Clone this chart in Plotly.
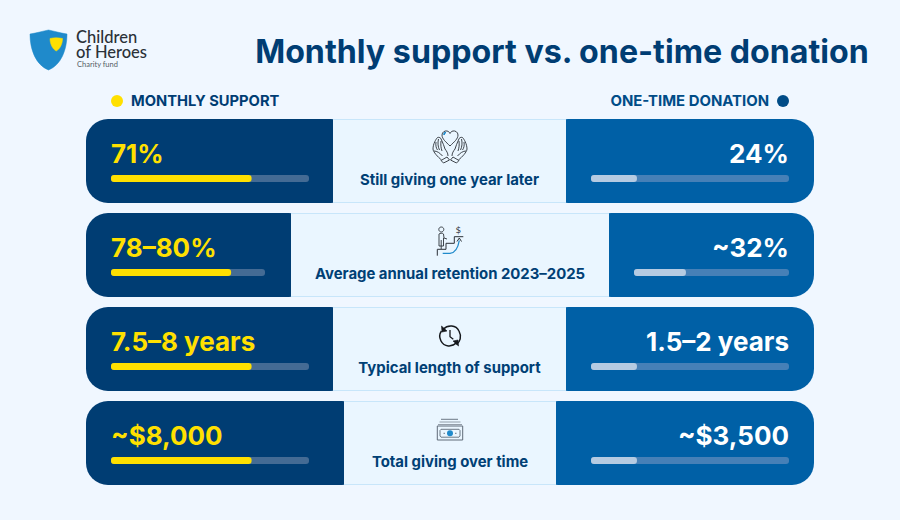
import plotly.graph_objects as go

# ---- data ----
row_labels = ["Still giving one year later", "Average annual retention 2023–2025",
              "Typical length of support", "Total giving over time"]
monthly_text = ["71%", "78–80%", "7.5–8 years", "~$8,000"]
onetime_text = ["24%", "~32%", "1.5–2 years", "~$3,500"]
monthly_fill = [0.71, 0.78, 0.71, 0.71]
onetime_fill = [0.232, 0.335, 0.232, 0.232]
legend_labels = ["MONTHLY SUPPORT", "ONE-TIME DONATION"]
title_text = "Monthly support vs. one-time donation"

# ---- geometry ----
W, H = 900, 520
row_mid = [161, 255, 349, 443]
center_left = [333, 291, 333, 344]
center_right = [566, 609, 566, 556]
left_track_end = [309, 265, 309, 309]
right_track_start = [591, 634, 591, 591]
TRACK_L0, TRACK_R1 = 111, 789
PANEL_L, PANEL_R = 86, 814

# ---- colours ----
BG = "#f0f7ff"; NAVY = "#003d73"; BLUE = "#0060a6"; YEL = "#ffe000"
CENTER = "#eaf6ff"; EDGE = "#c8e6fa"; TRK_L = "#446b94"; TRK_R = "#4680b7"; FILL_R = "#b5cbe2"
INK = "#2b3138"; ICON_BLUE = "#1f8acb"
FONT = "Inter"

fig = go.Figure()

def hbar(base, length, y, h, color, r=0):
    fig.add_trace(go.Bar(orientation="h", base=base, x=length, y=y, width=h,
                         marker=dict(color=color, line_width=0, cornerradius=r),
                         hoverinfo="skip", showlegend=False))

n = len(row_mid)
# panels
hbar([PANEL_L]*n, [c - PANEL_L + 20 for c in center_left], row_mid, 84, NAVY, 22)
hbar([c - 20 for c in center_right], [PANEL_R - c + 20 for c in center_right], row_mid, 84, BLUE, 22)
# centre cells
hbar(center_left, [r - l for l, r in zip(center_left, center_right)], row_mid, 84, EDGE)
hbar(center_left, [r - l for l, r in zip(center_left, center_right)], row_mid, 82, CENTER)
# progress tracks and fills
track_y = [m + 17.5 for m in row_mid]
l_w = [e - TRACK_L0 for e in left_track_end]
r_w = [TRACK_R1 - s for s in right_track_start]
hbar([TRACK_L0]*n, l_w, track_y, 7, TRK_L, 3.5)
hbar([TRACK_L0]*n, [w*f for w, f in zip(l_w, monthly_fill)], track_y, 7, YEL, 3.5)
hbar(right_track_start, r_w, track_y, 7, TRK_R, 3.5)
hbar(right_track_start, [w*f for w, f in zip(r_w, onetime_fill)], track_y, 7, FILL_R, 3.5)

def label(x, y, txt, size, color, pos, weight=700, font=FONT):
    fig.add_trace(go.Scatter(x=x, y=y, text=txt, mode="text", textposition=pos,
                             textfont=dict(family=font, size=size, color=color, weight=weight),
                             hoverinfo="skip", showlegend=False, cliponaxis=False))

label([111]*n, [m - 4.5 for m in row_mid], monthly_text, 26, YEL, "middle right")
label([789]*n, [m - 4.5 for m in row_mid], onetime_text, 26, "#ffffff", "middle left")
label([(l + r)/2 for l, r in zip(center_left, center_right)], [m + 20 for m in row_mid],
      row_labels, 14.9, "#004075", "middle center")
label([131], [102], legend_labels[:1], 14.7, NAVY, "middle right")
label([769], [102], legend_labels[1:], 14.9, "#004c87", "middle left")
label([562], [54.5], [title_text], 32.2, NAVY, "middle center")
label([76], [39], ["Children"], 16.5, INK, "middle right", 500, "Lato")
label([76], [53.5], ["of Heroes"], 16.5, INK, "middle right", 500, "Lato")
label([77], [65], ["Charity fund"], 7.5, "#555c66", "middle right", 400, "Lato")
label([458.3], [230.5], ["$"], 9, INK, "middle center", 400, "DejaVu Sans")

# legend dots
fig.add_trace(go.Scatter(x=[117, 783], y=[101, 101], mode="markers",
                         marker=dict(size=12, color=[YEL, "#004c87"], line_width=0),
                         hoverinfo="skip", showlegend=False))

# ---- icons and logo as paths ----
shapes = []
def path(d, color=INK, w=1.0, fill=None):
    shapes.append(dict(type="path", path=d, xref="x", yref="y", layer="above",
                       line=dict(color=color, width=w), fillcolor=fill or "rgba(0,0,0,0)"))
def mirror(d, cx=450):
    out = []; toks = d.split(); 
    for t in toks:
        if "," in t:
            a, b = t.split(",")
            out.append(f"{2*cx-float(a):.1f},{b}")
        else:
            out.append(t)
    return " ".join(out)

# logo
path("M 30,34 C 37,33 43,31 48.5,30 C 54,31 60,33 67,34 C 67,50 61,65 48.5,70 C 36,65 30,50 30,34 Z",
     ICON_BLUE, 0.5, ICON_BLUE)
path("M 50,38.5 C 54,37.5 58,37.5 62.5,38.5 C 62.5,44 60,49 56.2,51 C 52.5,49 50,44 50,38.5 Z",
     YEL, 0.5, YEL)

# heart + hands
path("M 450,146 C 446,142 442,139 442,135 C 442,132 445,130.5 447,131 C 448.5,131.3 449.5,132.3 450,133.5 "
     "C 450.5,132.3 451.5,131.3 453,131 C 455,130.5 458,132 458,135 C 458,139 454,142 450,146 Z", INK, 0.9)
path("M 444,135 C 444,133.5 445,132.5 446,132.5", ICON_BLUE, 1.6)
hand = ("M 443.5,163 L 441,160.5 L 447,157 L 449.5,160 L 443.5,163 M 441.5,160 C 438,157 433,152 433,149 "
        "C 433,144 436,139 437.5,137.5 C 439,137 441,137.5 441.5,140 C 443,143 444,146 445,149 "
        "C 446.5,151 448,153 448,156 M 436,142 C 435.5,145 436,148 437.5,150 M 438.5,139 C 437.5,143 438,147 439.5,150 "
        "M 441,141 C 440.5,145 441,148 442,151 M 434,151 C 437,151 440,153 442.5,156")
path(hand, INK, 0.9); path(mirror(hand), INK, 0.9)

# stairs icon
path("M 437.3,255.7 L 437.3,249.3 L 446,249.3 L 446,243.3 L 454.3,243.3 L 454.3,236.7 L 463.3,236.7", INK, 1.0)
path("M 442.7,253.3 L 450,253.3 C 455,253 458,248 459.3,240.5", ICON_BLUE, 1.3)
path("M 457,241.5 L 459.3,238 L 461.5,241.5", INK, 1.0)
path("M 441.3,227 C 443,227 443.8,228.3 443.8,229.5 C 443.8,230.8 442.6,232 441.3,232 C 440,232 438.8,230.8 438.8,229.5 "
     "C 438.8,228.3 439.6,227 441.3,227 Z", INK, 0.9)
path("M 439,246 L 439,234 C 439.5,233 443,233 443.5,234 L 444,238 L 447,239 M 443.5,238 L 443.5,246 L 439,246 "
     "M 441.2,240 L 441.2,249", INK, 0.9)

# clock icon
path("M 443.2,329.3 C 448,324.5 456,325 459,331 C 462,336.5 460,342 456.5,344.5", "#15181c", 1.5)
path("M 456.7,342.6 C 452,347.5 444,347 441,341 C 439,337 440,333 441.5,331", "#15181c", 1.5)
path("M 441.5,326 L 442,332 L 447,331 Z", "#15181c", 0.6, "#15181c")
path("M 458.5,346 L 458,340 L 453,341 Z", "#15181c", 0.6, "#15181c")
path("M 450,330 L 450,336.7 L 453.3,339.3", "#15181c", 1.3)

# banknote icon
path("M 441,419.3 L 458,419.3", "#5f6b78", 0.9)
path("M 439.5,422 L 460.5,422", "#8b95a0", 0.9)
path("M 438,424.5 L 462,424.5", "#8b95a0", 0.9)
path("M 437.3,426 L 462.7,426 L 462.7,440 L 437.3,440 Z", "#5f6b78", 1.0)
path("M 441,429.3 L 459,429.3 L 460,430.5 L 460,436 L 459,437.2 L 441,437.2 L 440,436 L 440,430.5 Z", "#5f6b78", 0.9)
path("M 443.5,433.3 L 445,433.3 M 455,433.3 L 456.5,433.3", "#5f6b78", 0.9)
fig.add_trace(go.Scatter(x=[450], y=[433.3], mode="markers",
                         marker=dict(size=6, color=ICON_BLUE, line_width=0),
                         hoverinfo="skip", showlegend=False))

axis = dict(visible=False, fixedrange=True, showgrid=False, zeroline=False)
fig.update_layout(width=W, height=H, margin=dict(l=0, r=0, t=0, b=0),
                  paper_bgcolor=BG, plot_bgcolor=BG, barmode="overlay", showlegend=False,
                  xaxis=dict(axis, range=[0, W]), yaxis=dict(axis, range=[H, 0]), shapes=shapes)
fig.write_html("out.html", config=dict(displayModeBar=False),
               post_script="document.body.style.margin='0';document.body.style.overflow='hidden';"
                           "document.body.style.background='#f0f7ff';")
